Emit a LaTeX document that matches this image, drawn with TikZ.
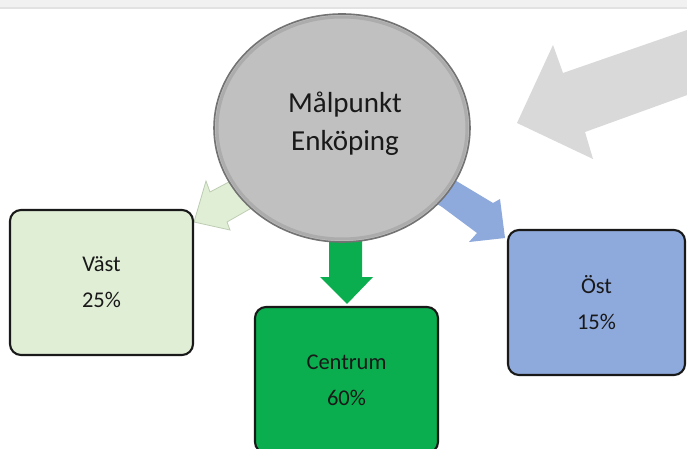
\documentclass[tikz,border=0pt]{standalone}
\usepackage{fontspec}
\setmainfont{Carlito}
\usetikzlibrary{shapes.geometric}
\definecolor{vastfill}{RGB}{224,238,214}
\definecolor{vastedge}{RGB}{188,204,178}
\definecolor{centfill}{RGB}{10,174,78}
\definecolor{ostfill}{RGB}{142,169,219}
\definecolor{bigarrow}{RGB}{217,217,217}
\definecolor{hubfill}{RGB}{192,192,192}
\definecolor{hubring}{RGB}{172,172,172}
\definecolor{hubedge}{RGB}{115,115,115}
\definecolor{stripfill}{RGB}{241,241,241}
\definecolor{stripline}{RGB}{226,226,226}
\definecolor{txt}{RGB}{25,25,25}
\tikzset{
  boxnode/.style={draw=black!90, line width=2.1pt, rounded corners=11pt,
    align=center, text=txt, inner sep=0pt,
    font=\fontsize{22.5}{36}\selectfont},
  blockarrow/.style={line join=miter}
}
\begin{document}
\begin{tikzpicture}[x=1pt,y=-1pt]
\useasboundingbox (0,0) rectangle (687,449);
\clip (0,0) rectangle (687,449);
\fill[white] (0,0) rectangle (687,449);
% top strip
\fill[stripfill] (0,0) rectangle (687,8);
\fill[stripline] (0,7) rectangle (687,9);
% big gray arrow
\fill[bigarrow, blockarrow] (690,29) -- (563,73) -- (553,45) -- (517,123)
  -- (593,159) -- (585,132) -- (690,94) -- cycle;
% arrows from hub
\filldraw[fill=vastfill, draw=vastedge, line width=0.8pt, blockarrow]
  (261,165) -- (227,183) -- (210,192) -- (206,181) -- (194,222)
  -- (230,230) -- (227,222) -- (248,210) -- (282,192) -- cycle;
\fill[ostfill, blockarrow]
  (423,161) -- (458,182) -- (493,203) -- (500,199) -- (505,238)
  -- (469,242) -- (477,233) -- (442,207) -- (407,186) -- cycle;
\fill[centfill, blockarrow]
  (329,215) -- (329,277) -- (320,277) -- (347,304) -- (373,277)
  -- (362,277) -- (362,215) -- cycle;
% hub
\node[ellipse, fill=hubfill, minimum width=256pt, minimum height=228pt,
  inner sep=0pt] (hub) at (342,128) {};
\node[ellipse, draw=hubring, line width=3pt, minimum width=250pt,
  minimum height=222pt, inner sep=0pt] (hubring) at (hub.center) {};
\node[ellipse, draw=hubedge, line width=1.6pt, minimum width=256pt,
  minimum height=228pt, inner sep=0pt] (hubrim) at (hub.center) {};
\node[align=center, text=txt, font=\fontsize{29}{38}\selectfont] (hubtext)
  at (345,124) {Målpunkt\\Enköping};
% boxes
\node[boxnode, fill=vastfill, minimum width=183pt, minimum height=145pt]
  (vast) at (101.5,282.5) {Väst\\25\%};
\node[boxnode, fill=centfill, minimum width=183pt, minimum height=146pt]
  (centrum) at (346.5,380) {Centrum\\60\%};
\node[boxnode, fill=ostfill, minimum width=177pt, minimum height=145pt]
  (ost) at (596.5,302.5) {Öst\\15\%};
\end{tikzpicture}
\end{document}
